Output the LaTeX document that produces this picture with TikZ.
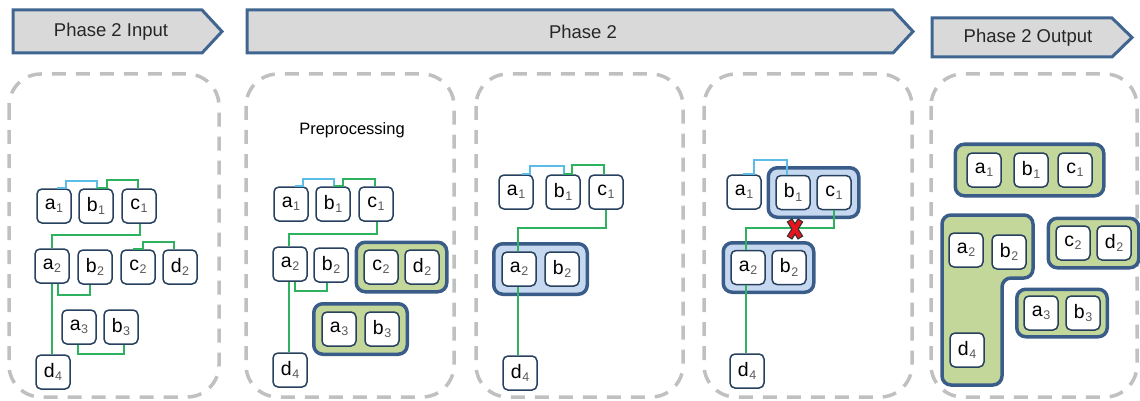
\documentclass[tikz,border=0pt]{standalone}
\usepackage{fontspec}
\setmainfont{Liberation Sans}
\usetikzlibrary{calc,fit,backgrounds}

\definecolor{hdrfill}{HTML}{D9D9D9}
\definecolor{hdrline}{HTML}{3F6590}
\definecolor{panelline}{HTML}{C0C0C0}
\definecolor{ndline}{HTML}{26405E}
\definecolor{grpline}{HTML}{3A5C88}
\definecolor{grpgreen}{HTML}{C4D79B}
\definecolor{grpblue}{HTML}{C6D8F0}
\definecolor{lnkgreen}{HTML}{2EB260}
\definecolor{lnkblue}{HTML}{5BBDE6}
\definecolor{subgray}{HTML}{5A5A5A}
\definecolor{xred}{HTML}{E8141B}

% letter with a small grey index, e.g. \lab{a}{1}
\newcommand\lab[2]{#1\kern0.6pt\raisebox{-3.2pt}{\fontsize{12.5}{12.5}\selectfont\color{subgray}#2}}

\begin{document}
\begin{tikzpicture}[x=1pt,y=-1pt,
  hdr/.style={draw=hdrline, line width=3pt, fill=hdrfill, line join=miter},
  hdrtext/.style={font=\fontsize{18.5}{20}\selectfont, text=black!85},
  panel/.style={draw=panelline, line width=3.5pt, dash pattern=on 14pt off 10pt, rounded corners=32pt},
  nd/.style={draw=ndline, line width=1.5pt, fill=white, rounded corners=5pt,
    minimum width=34pt, minimum height=34pt, inner sep=0pt, font=\fontsize{19.5}{19.5}\selectfont},
  grp/.style={draw=grpline, line width=3.5pt, rounded corners=9pt, inner sep=7pt},
  grpG/.style={grp, fill=grpgreen},
  grpB/.style={grp, fill=grpblue},
  lnkG/.style={draw=lnkgreen, line width=1.7pt},
  lnkB/.style={draw=lnkblue, line width=1.6pt},
]
\useasboundingbox (0,0) rectangle (1140,401);

% ---------- phase headers ----------
\draw[hdr] (13,10) -- (202,10) -- (222,31.5) -- (202,53) -- (13,53) -- cycle;
\node[hdrtext] (hin) at (111,31.5) {Phase 2 Input};
\draw[hdr] (247,10) -- (893,10) -- (913,31.5) -- (893,53) -- (247,53) -- cycle;
\node[hdrtext] (hmid) at (583,31.5) {Phase 2};
\draw[hdr] (932,18) -- (1112,18) -- (1132,37.5) -- (1112,57) -- (932,57) -- cycle;
\node[hdrtext] (hout) at (1028,37.5) {Phase 2 Output};

% ---------- panel 1: input graph ----------
\node[nd] (p1a1) at (54,206) {\lab{a}{1}};
\node[nd] (p1b1) at (96,206) {\lab{b}{1}};
\node[nd] (p1c1) at (139,206) {\lab{c}{1}};
\node[nd] (p1a2) at (52,266) {\lab{a}{2}};
\node[nd] (p1b2) at (95,267) {\lab{b}{2}};
\node[nd] (p1c2) at (138,267) {\lab{c}{2}};
\node[nd] (p1d2) at (180,267) {\lab{d}{2}};
\node[nd] (p1a3) at (79,327) {\lab{a}{3}};
\node[nd] (p1b3) at (121,327) {\lab{b}{3}};
\node[nd] (p1d4) at (53,372) {\lab{d}{4}};

\draw[lnkB] ($(p1a1.north)+(3,0)$) -- ++(9,0) |- ($(p1b1.north)+(1,-7)$) -- ($(p1b1.north)+(1,0)$);
\draw[lnkG] ($(p1b1.north)+(1,0)$) -- ++(10,0) |- ($(p1c1.north)+(-1,-8)$) -- ($(p1c1.north)+(-1,0)$);
\draw[lnkG] ($(p1c1.south)+(1,0)$) |- ($(p1a2.north)+(0,-13)$) -- (p1a2.north);
\draw[lnkG] ($(p1c2.north)+(-5,0)$) -- ++(10,0) |- ($(p1d2.north)+(-6,-7)$) -- ($(p1d2.north)+(-6,0)$);
\draw[lnkG] ($(p1a2.south)+(6,0)$) |- ($(p1b2.south)+(-5,10)$) -- ($(p1b2.south)+(-5,0)$);
\draw[lnkG] (p1a2.south) -- (p1a2.south |- p1d4.north);
\draw[lnkG] ($(p1a3.south)+(-1,0)$) |- ($(p1b3.south)+(3,9)$) -- ($(p1b3.south)+(3,0)$);

% ---------- panel 2: preprocessing ----------
\node[font=\fontsize{16.5}{18}\selectfont] (pre) at (352,130) {Preprocessing};
\node[nd] (p2a1) at (291,204) {\lab{a}{1}};
\node[nd] (p2b1) at (333,204) {\lab{b}{1}};
\node[nd] (p2c1) at (376,204) {\lab{c}{1}};
\node[nd] (p2a2) at (290,264) {\lab{a}{2}};
\node[nd] (p2b2) at (331,265) {\lab{b}{2}};
\node[nd] (p2c2) at (381,267) {\lab{c}{2}};
\node[nd] (p2d2) at (422,267) {\lab{d}{2}};
\node[nd] (p2a3) at (339,329) {\lab{a}{3}};
\node[nd] (p2b3) at (382,329) {\lab{b}{3}};
\node[nd] (p2d4) at (290,370) {\lab{d}{4}};

\draw[lnkB] ($(p2a1.north)+(4,0)$) -- ++(8,0) |- ($(p2b1.north)+(1,-7)$) -- ($(p2b1.north)+(1,0)$);
\draw[lnkG] ($(p2b1.north)+(1,0)$) -- ++(9,0) |- ($(p2c1.north)+(-1,-7)$) -- ($(p2c1.north)+(-1,0)$);
\draw[lnkG] ($(p2c1.south)+(1,0)$) |- ($(p2a2.north)+(-1,-12)$) -- ($(p2a2.north)+(-1,0)$);
\draw[lnkG] ($(p2a2.south)+(5,0)$) |- ($(p2b2.south)+(-4,8)$) -- ($(p2b2.south)+(-4,0)$);
\coordinate (p2low) at ($(p2a2.south)+(-1,0)$);
\draw[lnkG] (p2low) -- (p2low |- p2d4.north);

% ---------- panel 3 ----------
\node[nd] (p3a1) at (516,192) {\lab{a}{1}};
\node[nd] (p3b1) at (563,192) {\lab{b}{1}};
\node[nd] (p3c1) at (606,192) {\lab{c}{1}};
\node[nd] (p3a2) at (519,269) {\lab{a}{2}};
\node[nd] (p3b2) at (562,269) {\lab{b}{2}};
\node[nd] (p3d4) at (520,373) {\lab{d}{4}};

\draw[lnkB] ($(p3a1.north)+(6,0)$) -- ++(8,0) |- ($(p3b1.north)+(1,-8)$) -- ($(p3b1.north)+(1,0)$);
\draw[lnkG] ($(p3b1.north)+(1,0)$) -- ++(8,0) |- ($(p3c1.north)+(-2,-9)$) -- ($(p3c1.north)+(-2,0)$);
\draw[lnkG] (p3c1.south) |- ($(p3a2.north)+(-1,-23)$) -- ($(p3a2.north)+(-1,0)$);
\coordinate (p3low) at ($(p3a2.south)+(-1,0)$);
\draw[lnkG] (p3low) -- (p3low |- p3d4.north);

% ---------- panel 4 ----------
\node[nd] (p4a1) at (744,192) {\lab{a}{1}};
\node[nd] (p4b1) at (793,192.5) {\lab{b}{1}};
\node[nd] (p4c1) at (834,192.5) {\lab{c}{1}};
\node[nd] (p4a2) at (748,267.5) {\lab{a}{2}};
\node[nd] (p4b2) at (789,267.5) {\lab{b}{2}};
\node[nd] (p4d4) at (747,371) {\lab{d}{4}};

\draw[lnkB] ($(p4a1.north)+(-1,0)$) -- ++(11,0) |- ($(p4b1.north)+(-6,-15)$) -- ($(p4b1.north)+(-6,0)$);
\draw[lnkG] (p4c1.south) |- ($(p4a2.north)+(-2,-21.5)$) -- ($(p4a2.north)+(-2,0)$);
\coordinate (p4low) at ($(p4a2.south)+(-2,0)$);
\draw[lnkG] (p4low) -- (p4low |- p4d4.north);

% cut mark on the c1--a2 link
\coordinate (cut) at (795,229);
\draw[line width=6.5pt, draw=black!80] ($(cut)+(-5.6,-9)$) -- ($(cut)+(5.6,9)$)
  ($(cut)+(5.6,-9)$) -- ($(cut)+(-5.6,9)$);
\draw[line width=4pt, draw=xred] ($(cut)+(-5,-8)$) -- ($(cut)+(5,8)$)
  ($(cut)+(5,-8)$) -- ($(cut)+(-5,8)$);

% ---------- panel 5: output ----------
\node[nd] (p5a1) at (984,170) {\lab{a}{1}};
\node[nd] (p5b1) at (1031,170) {\lab{b}{1}};
\node[nd] (p5c1) at (1075,170) {\lab{c}{1}};
\node[nd] (p5a2) at (966,250) {\lab{a}{2}};
\node[nd] (p5b2) at (1009,252) {\lab{b}{2}};
\node[nd] (p5d4) at (967,350) {\lab{d}{4}};
\node[nd] (p5c2) at (1073,243) {\lab{c}{2}};
\node[nd] (p5d2) at (1114,243) {\lab{d}{2}};
\node[nd] (p5a3) at (1041,313) {\lab{a}{3}};
\node[nd] (p5b3) at (1083,313) {\lab{b}{3}};

% ---------- panels and groups behind the nodes ----------
\begin{scope}[on background layer]
  \draw[panel] (9,74) rectangle (219,397);
  \draw[panel] (246,74) rectangle (454,397);
  \draw[panel] (476,74) rectangle (683,397);
  \draw[panel] (704,74) rectangle (912,397);
  \draw[panel] (931,74) rectangle (1137,397);
\end{scope}
\begin{scope}[on background layer]
  \node[grpG, fit=(p2c2)(p2d2)] (g2cd) {};
  \node[grpG, fit=(p2a3)(p2b3), inner sep=7.5pt] (g2ab) {};
  \node[grpB, fit=(p3a2)(p3b2), inner sep=7.5pt] (g3ab) {};
  \node[grpB, fit=(p4b1)(p4c1)] (g4bc) {};
  \node[grpB, fit=(p4a2)(p4b2)] (g4ab) {};
  \node[grpG, fit=(p5a1)(p5c1), inner xsep=11pt, inner ysep=8pt] (g5abc) {};
  \node[grpG, fit=(p5c2)(p5d2)] (g5cd) {};
  \node[grpG, fit=(p5a3)(p5b3), inner xsep=6.5pt, inner ysep=6pt] (g5ab) {};
  \draw[grpG] (942,215) -- (1033,215) -- (1033,278) -- (1002,278) -- (1002,385) -- (942,385) -- cycle;
\end{scope}
\end{tikzpicture}
\end{document}
